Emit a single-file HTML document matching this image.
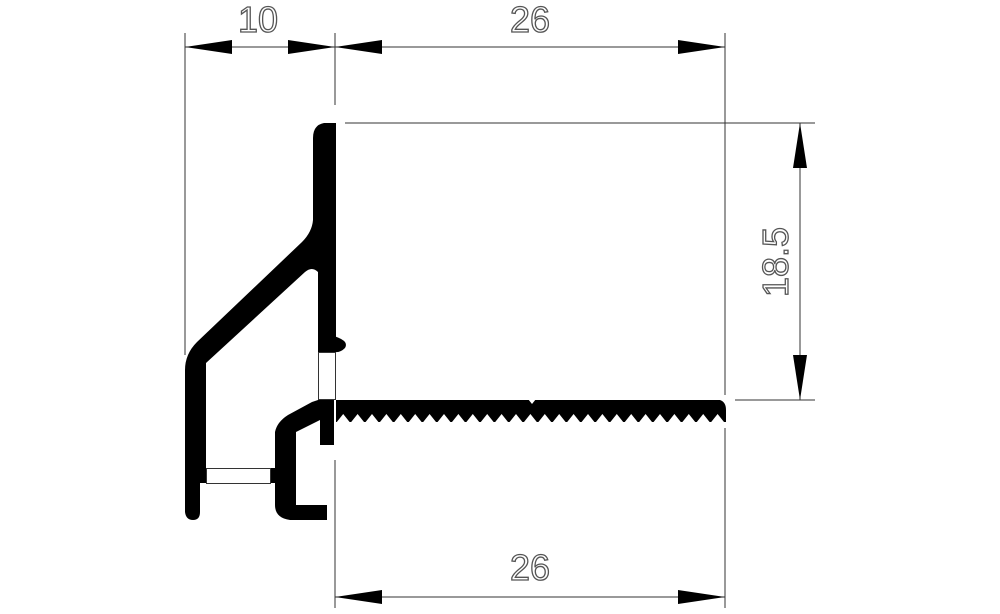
<!DOCTYPE html>
<html><head><meta charset="utf-8"><style>
html,body{margin:0;padding:0;background:#fff;width:1000px;height:614px;overflow:hidden}
svg{display:block}
text{font-family:"Liberation Sans",sans-serif;fill:#fff;stroke:#555;stroke-width:1.3}
</style></head><body>
<svg width="1000" height="614" viewBox="0 0 1000 614" xmlns="http://www.w3.org/2000/svg">
<g stroke="#333" stroke-width="1" fill="none">
<line x1="185" y1="33" x2="185" y2="355"/>
<line x1="335" y1="33" x2="335" y2="105"/>
<line x1="725" y1="33" x2="725" y2="395"/>
<line x1="185" y1="47" x2="725" y2="47"/>
<line x1="345" y1="123" x2="815" y2="123"/>
<line x1="735" y1="400" x2="815" y2="400"/>
<line x1="800" y1="123" x2="800" y2="400"/>
<line x1="335" y1="460" x2="335" y2="608"/>
<line x1="725" y1="428" x2="725" y2="608"/>
<line x1="335" y1="597" x2="725" y2="597"/>
</g>
<g fill="#000">
<polygon points="185,47 232,40 232,54"/>
<polygon points="335,47 288,40 288,54"/>
<polygon points="335,47 382,40 382,54"/>
<polygon points="725,47 678,40 678,54"/>
<polygon points="800,123 793,168 807,168"/>
<polygon points="800,400 793,355 807,355"/>
<polygon points="335,597 382,590 382,604"/>
<polygon points="725,597 678,590 678,604"/>
</g>
<text x="258" y="32" font-size="36" text-anchor="middle">10</text>
<text x="530" y="32" font-size="36" text-anchor="middle">26</text>
<text x="530" y="580" font-size="36" text-anchor="middle">26</text>
<text x="0" y="0" font-size="36" text-anchor="middle" transform="translate(788,262) rotate(-90)">18.5</text>
<!-- profile -->
<g fill="#000">
<path d="M336,123 L324,123 Q313,125 313,138 L313,220 Q312,232 302,242 L197,342 Q185,354 185,370 L185,512 Q186,520 193,520 Q200,520 200,512 L200,483 L206,483 L206,363 L305,272 Q312,266 318,272 L318,352 L336,352 Z"/>
<path d="M330,335 Q350,340 345,348 Q338,355 330,350 Z"/>
<path d="M318,400 L334,400 L334,445 L320,445 L320,420 L296,432 L296,505 L327,505 L327,520 L290,520 Q275,518 275,505 L275,483 L270,483 L270,468 L275,468 L275,432 Q277,422 288,415 L312,402 Z"/>
<path id="teeth" d="M320,400 L720,400 Q726,402 726,410 L726,422 L336,422 L336,400 Z"/>
</g>
<path id="tp" fill="#fff" d=""/>
<g fill="none" stroke="#333" stroke-width="1">
<rect x="318.5" y="352.5" width="17" height="47"/>
<rect x="206.5" y="468.5" width="64" height="15"/>
</g>
<script>
var d="";var x0=336,p=14.4;
for(var i=0;i<28;i++){var a=x0+i*p;if(a>722)break;d+="M"+a+",423 L"+(a+p/2)+",414 L"+(a+p)+",423 Z ";}
d+="M528,399 L532,404 L536,399 Z";
document.getElementById("tp").setAttribute("d",d);
</script>
</svg>
</body></html>
